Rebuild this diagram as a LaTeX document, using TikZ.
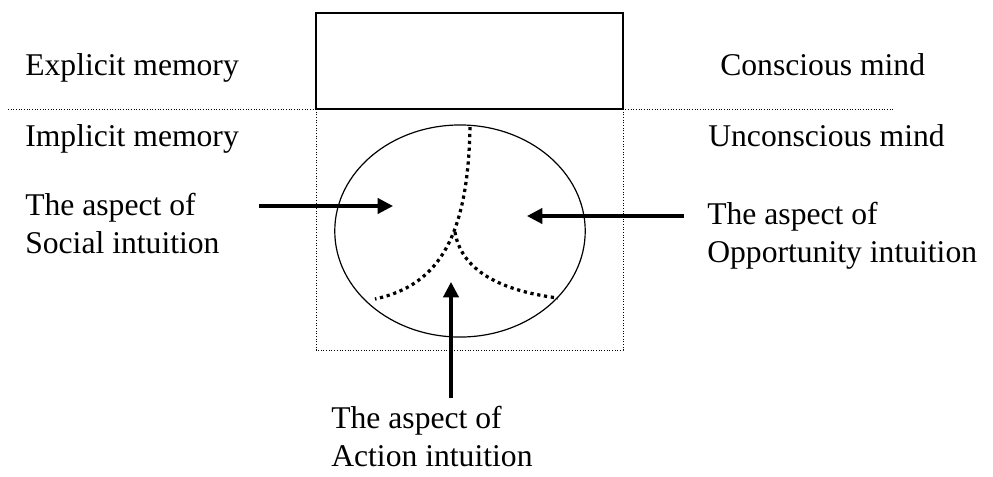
\documentclass[tikz,border=0pt]{standalone}
\usepackage{fontspec}
\setmainfont{Liberation Serif}
\usetikzlibrary{arrows.meta}

\tikzset{
  lbl/.style={anchor=base west, inner sep=0pt, align=left,
    font=\fontsize{22.5}{27}\selectfont},
  split/.style={line width=2.3pt, dash pattern=on 2.3pt off 2.6pt},
  thin dots/.style={line width=0.6pt, dash pattern=on 0.6pt off 1.3pt},
  push/.style={line width=2.2pt, -{Triangle[length=11pt,width=11pt]}}
}

\begin{document}
\begin{tikzpicture}[x=0.025cm,y=-0.025cm]
\useasboundingbox (0,0) rectangle (993,476);

% levels of mind
\draw[line width=1pt] (316,13) rectangle (623,109);
\draw[thin dots] (8,109) -- (893,109);
\draw[thin dots] (316,109) -- (316,350) -- (623,350) -- (623,109);

% intuition
\draw[line width=0.85pt] (460,231) ellipse [x radius=3.13cm, y radius=2.65cm];
\draw[split] (470,127) .. controls (468,235) and (440,285) .. (375,299);
\draw[split] (455,232) .. controls (462,275) and (510,292) .. (558,298);

% base anchor sits on the last line
\node[lbl] (expl) at (25,75) {Explicit memory};
\node[lbl] (consc) at (720,75) {Conscious mind};
\node[lbl] (impl) at (25,146) {Implicit memory};
\node[lbl] (uncon) at (708,146) {Unconscious mind};
\node[lbl] (social) at (25,253) {The aspect of\\Social intuition};
\node[lbl] (opport) at (707,262) {The aspect of\\Opportunity intuition};
\node[lbl] (action) at (331,466) {The aspect of\\Action intuition};

\coordinate (sfrom) at (259,206);
\coordinate (sto) at (393,206);
\coordinate (ofrom) at (684,216);
\coordinate (oto) at (527,216);
\coordinate (afrom) at (451,398);
\coordinate (ato) at (451,282);
\draw[push] (sfrom) -- (sto);
\draw[push] (ofrom) -- (oto);
\draw[push] (afrom) -- (ato);
\end{tikzpicture}
\end{document}
